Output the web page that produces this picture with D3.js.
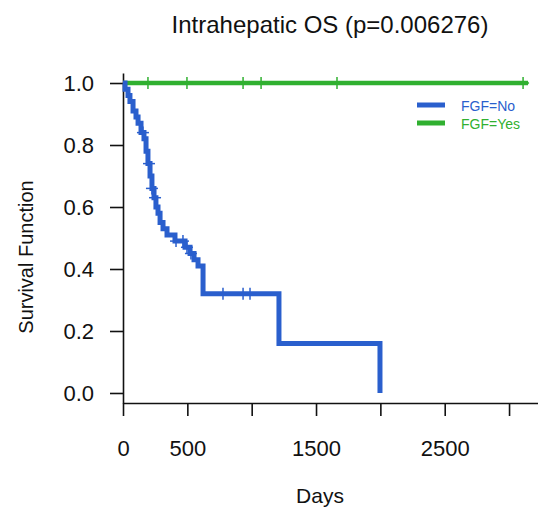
<!DOCTYPE html>
<html>
<head>
<meta charset="utf-8">
<script src="https://cdn.jsdelivr.net/npm/d3@7"></script>
<style>
  body { margin: 0; background: #fff; }
  svg { font-family: "Liberation Sans", Arial, sans-serif; }
  .axis path, .axis line { stroke: #111; stroke-width: 1.6px; }
  .axis text { fill: #111; font-size: 22px; }
</style>
</head>
<body>
<svg class="km" width="538" height="509"></svg>
<script>
// curve values
const noTimes = [0, 16, 39, 54, 78, 101, 117, 140, 163, 179, 194, 210, 225, 241, 256, 272, 288, 311, 342, 404, 482, 521, 552, 583, 622, 1212, 1997];
const noSurv = [1, 0.98, 0.96, 0.94, 0.91, 0.89, 0.87, 0.84, 0.82, 0.78, 0.74, 0.70, 0.66, 0.63, 0.60, 0.58, 0.55, 0.53, 0.51, 0.49, 0.47, 0.45, 0.43, 0.41, 0.32, 0.16, 0];
const noCensor = [155, 202, 225, 249, 412, 466, 497, 528, 777, 933, 987];

const yesTimes = [0, 3148];
const yesSurv = [1, 1];
const yesCensor = [194, 497, 933, 1073, 1663, 3109];

const groups = ["FGF=No", "FGF=Yes"];
const colors = ["#2a5fcd", "#30b030"];
const xTicks = [0, 500, 1000, 1500, 2000, 2500, 3000];
const xLabels = ["0", "500", "", "1500", "", "2500", ""];
const yTicks = [0, 0.2, 0.4, 0.6, 0.8, 1.0];

const svg = d3.select(".km");

const x = d3.scaleLinear().domain([0, 3225]).range([123, 538]);
const y = d3.scaleLinear().domain([-0.0323, 1.0323]).range([403, 73]);

const xAxis = d3.axisBottom(x)
  .tickValues(xTicks)
  .tickSize(13)
  .tickSizeOuter(0)
  .tickPadding(24)
  .tickFormat(function (d, i) { return xLabels[i]; });

const yAxis = d3.axisLeft(y)
  .tickValues(yTicks)
  .tickSize(13)
  .tickSizeOuter(0)
  .tickPadding(16)
  .tickFormat(d3.format(".1f"));

svg.append("g")
  .attr("class", "axis axis--x")
  .attr("transform", "translate(0," + 403 + ")")
  .call(xAxis);

svg.append("g")
  .attr("class", "axis axis--y")
  .attr("transform", "translate(" + 123 + ",0)")
  .call(yAxis);

function stepAt(times, surv, t) {
  let s = surv[0];
  for (let i = 0; i < times.length; i++) {
    if (times[i] <= t) s = surv[i];
  }
  return s;
}

const line = d3.line()
  .curve(d3.curveStepAfter)
  .x(function (d) { return x(d[0]); })
  .y(function (d) { return y(d[1]); });

const series = [
  { times: yesTimes, surv: yesSurv, censor: yesCensor, color: colors[1], width: 4.5 },
  { times: noTimes, surv: noSurv, censor: noCensor, color: colors[0], width: 5 }
];

series.forEach(function (s) {
  svg.append("path")
    .datum(d3.zip(s.times, s.surv))
    .attr("fill", "none")
    .attr("stroke", s.color)
    .attr("stroke-width", s.width)
    .attr("d", line);

  const marks = svg.append("g")
    .selectAll("g")
    .data(s.censor)
    .enter()
    .append("g")
    .attr("transform", function (t) {
      return "translate(" + x(t) + "," + y(stepAt(s.times, s.surv, t)) + ")";
    });
  marks.append("line")
    .attr("x1", -6).attr("x2", 6)
    .attr("stroke", s.color).attr("stroke-width", 1.5);
  marks.append("line")
    .attr("y1", -6).attr("y2", 6)
    .attr("stroke", s.color).attr("stroke-width", 1.5);
});

// legend
const legend = svg.append("g")
  .selectAll("g")
  .data(groups)
  .enter()
  .append("g")
  .attr("transform", function (d, i) { return "translate(417," + (105 + i * 18) + ")"; });

legend.append("line")
  .attr("x1", 0).attr("x2", 28)
  .attr("stroke", function (d, i) { return colors[i]; })
  .attr("stroke-width", 5);

legend.append("text")
  .attr("x", 44)
  .attr("y", 6)
  .attr("font-size", 14)
  .attr("fill", function (d, i) { return colors[i]; })
  .text(function (d) { return d; });

// title and axis labels
svg.append("text")
  .attr("x", 330)
  .attr("y", 33)
  .attr("text-anchor", "middle")
  .attr("font-size", 24)
  .attr("fill", "#111")
  .text("Intrahepatic OS (p=0.006276)");

svg.append("text")
  .attr("x", 320)
  .attr("y", 503)
  .attr("text-anchor", "middle")
  .attr("font-size", 21)
  .attr("fill", "#111")
  .text("Days");

svg.append("text")
  .attr("transform", "translate(33,257) rotate(-90)")
  .attr("text-anchor", "middle")
  .attr("font-size", 20)
  .attr("fill", "#111")
  .text("Survival Function");
</script>
</body>
</html>
